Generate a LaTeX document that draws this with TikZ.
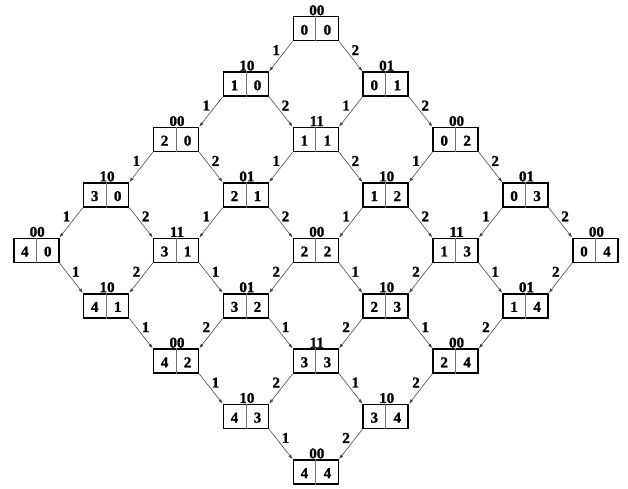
\documentclass[tikz,border=0pt]{standalone}
\usepackage{fontspec}
\setmainfont{Liberation Serif}
\newfontfamily\lblfont{Liberation Serif Bold}[FakeBold=1.3]
\newcommand\lblsz{\lblfont\fontsize{15pt}{16pt}\selectfont}
\usetikzlibrary{arrows.meta}
\begin{document}
\begin{tikzpicture}[x=1pt,y=1pt,
  box/.style={draw=black, line width=1.6pt, minimum width=45pt, minimum height=24pt, inner sep=0pt},
  dig/.style={inner sep=0pt, font=\lblsz},
  toplbl/.style={inner sep=0.4pt, anchor=south, font=\lblsz},
  edge/.style={draw=black!75, line width=0.55pt, -{Latex[length=4.5pt,width=3.2pt]}},
  elbl/.style={pos=0.29, inner sep=0pt, font=\lblsz, text=black}]
\useasboundingbox (0,0) rectangle (628,-489);
\foreach \i/\j/\lab in {0/0/00, 1/0/10, 0/1/01, 2/0/00, 1/1/11, 0/2/00,
  3/0/10, 2/1/01, 1/2/10, 0/3/01, 4/0/00, 3/1/11, 2/2/00, 1/3/11, 0/4/00,
  4/1/10, 3/2/01, 2/3/10, 1/4/01, 4/2/00, 3/3/11, 2/4/00, 4/3/10, 3/4/10, 4/4/00}{
  \node[box] (b-\i-\j) at ({315.8+69.9*(\j-\i)}, {-(28.7+55.4*(\i+\j))}) {};
  \draw[black!55, line width=0.7pt] (b-\i-\j.north) -- (b-\i-\j.south);
  \node[dig] (l-\i-\j) at ([xshift=-11.4pt,yshift=-1.2pt]b-\i-\j.center) {\i};
  \node[dig] (r-\i-\j) at ([xshift=11.6pt,yshift=-1.2pt]b-\i-\j.center) {\j};
  \node[toplbl] (t-\i-\j) at ([xshift=1pt]b-\i-\j.north) {\lab};
}
\foreach \i in {0,...,4}{\foreach \j in {0,...,4}{
  \ifnum\i<4
    \pgfmathtruncatemacro\ni{\i+1}
    \ifnum\numexpr\i+\j\relax<4 \def\lab{1}\else\def\lab{2}\fi
    \draw[edge] (b-\i-\j.south west) -- node[elbl, left=5.5pt] {\lab} (b-\ni-\j.north east);
  \fi
  \ifnum\j<4
    \pgfmathtruncatemacro\nj{\j+1}
    \ifnum\numexpr\i+\j\relax<4 \def\lab{2}\else\def\lab{1}\fi
    \draw[edge] (b-\i-\j.south east) -- node[elbl, right=5.5pt] {\lab} (b-\i-\nj.north west);
  \fi
}}
\end{tikzpicture}
\end{document}
